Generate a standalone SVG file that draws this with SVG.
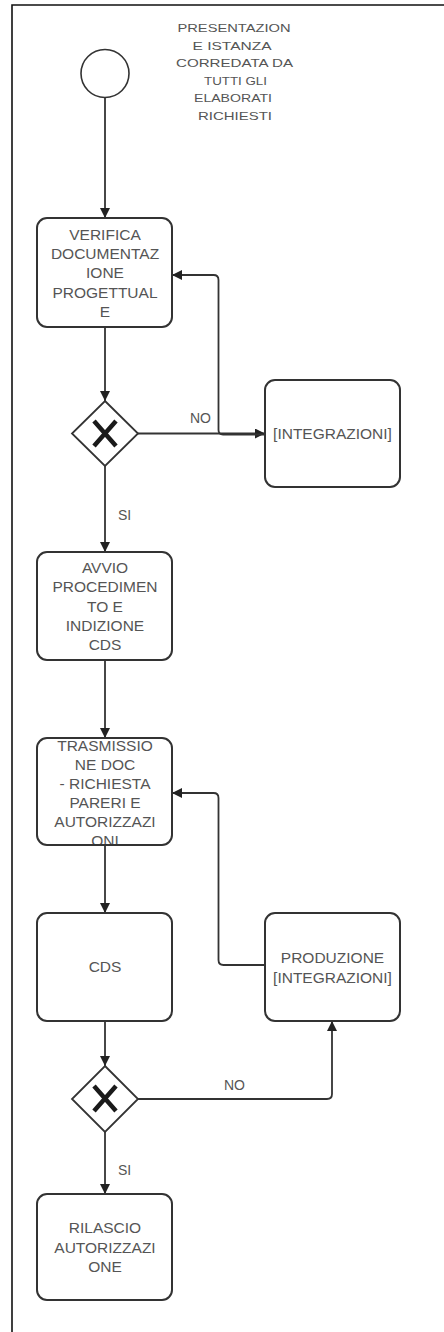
<svg xmlns="http://www.w3.org/2000/svg" width="444" height="1332" viewBox="0 0 444 1332">
<style>
.frame{stroke:#111;stroke-width:1.6;fill:none}
.box{fill:#fff;stroke:#333;stroke-width:2}
.gw{fill:#fff;stroke:#333;stroke-width:1.8}
.x{stroke:#1a1a1a;stroke-width:4.5;stroke-linecap:butt}
.ev{fill:#fff;stroke:#333;stroke-width:1.6}
.t{font-family:"Liberation Sans",Arial,sans-serif;font-size:15.5px;fill:#555;text-anchor:middle}
.title{font-family:"Liberation Sans",Arial,sans-serif;font-size:10.5px;fill:#555;text-anchor:middle}
.lbl{font-family:"Liberation Sans",Arial,sans-serif;font-size:14px;fill:#555}
.c{fill:none;stroke:#333;stroke-width:1.8;stroke-linejoin:round}
</style>
<defs>
<marker id="arr" viewBox="0 0 10 10" refX="10" refY="5" markerWidth="10" markerHeight="10" markerUnits="userSpaceOnUse" orient="auto">
<path d="M0,0 L10,5 L0,10 Z" fill="#222"/>
</marker>
<clipPath id="clip3"><rect x="38" y="741" width="133" height="103"/></clipPath>
</defs>
<rect width="444" height="1332" fill="#fff"/>
<g id="frame">
<path class="frame" d="M12,1332 V5 H444"/>
</g>
<g id="connectors">
<path class="c" d="M105,97.5 V218" marker-end="url(#arr)"/>
<path class="c" d="M105,327 V401" marker-end="url(#arr)"/>
<path class="c" d="M138,433.5 H265" marker-end="url(#arr)"/>
<path class="c" d="M265,434.5 H223 Q218.5,434.5 218.5,430 V280 Q218.5,275 213.5,275 H172" marker-end="url(#arr)"/>
<path class="c" d="M105,466 V552" marker-end="url(#arr)"/>
<path class="c" d="M105,660 V738" marker-end="url(#arr)"/>
<path class="c" d="M105,845 V913" marker-end="url(#arr)"/>
<path class="c" d="M105,1021 V1066" marker-end="url(#arr)"/>
<path class="c" d="M138,1099 H327 Q332,1099 332,1094 V1021" marker-end="url(#arr)"/>
<path class="c" d="M265,965 H223.5 Q218.5,965 218.5,960 V798 Q218.5,793 213.5,793 H172" marker-end="url(#arr)"/>
<path class="c" d="M105,1132 V1194" marker-end="url(#arr)"/>
<text class="lbl" x="190" y="423">NO</text>
<text class="lbl" x="118" y="520">SI</text>
<text class="lbl" x="224" y="1090">NO</text>
<text class="lbl" x="118" y="1175">SI</text>
</g>
<g id="start">
<circle class="ev" cx="105" cy="73.5" r="24"/>
</g>
<g id="title">
<text class="title" x="234" y="32" textLength="113" lengthAdjust="spacingAndGlyphs">PRESENTAZION</text>
<text class="title" x="232" y="49.6" textLength="79" lengthAdjust="spacingAndGlyphs">E ISTANZA</text>
<text class="title" x="234.5" y="67.2" textLength="117" lengthAdjust="spacingAndGlyphs">CORREDATA DA</text>
<text class="title" x="235.5" y="84.8" textLength="63" lengthAdjust="spacingAndGlyphs">TUTTI GLI</text>
<text class="title" x="233" y="102.4" textLength="78" lengthAdjust="spacingAndGlyphs">ELABORATI</text>
<text class="title" x="235" y="120" textLength="74" lengthAdjust="spacingAndGlyphs">RICHIESTI</text>
</g>
<g id="verifica">
<rect class="box" x="37" y="218" width="135" height="109" rx="10"/>
<text class="t" x="105" y="240">VERIFICA</text>
<text class="t" x="105" y="259">DOCUMENTAZ</text>
<text class="t" x="105" y="278">IONE</text>
<text class="t" x="105" y="298">PROGETTUAL</text>
<text class="t" x="105" y="317">E</text>
</g>
<g id="gateway1">
<path class="gw" d="M105,401 L138,433.5 L105,466 L72,433.5 Z"/>
<path class="x" d="M94,421 L116,446 M116,421 L94,446"/>
</g>
<g id="integrazioni">
<rect class="box" x="265" y="380" width="135" height="107" rx="10"/>
<text class="t" x="332.5" y="439">[INTEGRAZIONI]</text>
</g>
<g id="avvio">
<rect class="box" x="37" y="552" width="135" height="108" rx="10"/>
<text class="t" x="105" y="573">AVVIO</text>
<text class="t" x="105" y="592">PROCEDIMEN</text>
<text class="t" x="105" y="611.5">TO E</text>
<text class="t" x="105" y="631">INDIZIONE</text>
<text class="t" x="105" y="650">CDS</text>
</g>
<g id="trasmissione">
<rect class="box" x="37" y="738" width="135" height="107" rx="10"/>
<g clip-path="url(#clip3)">
<text class="t" x="105" y="751">TRASMISSIO</text>
<text class="t" x="105" y="770">NE DOC</text>
<text class="t" x="105" y="789">- RICHIESTA</text>
<text class="t" x="105" y="808">PARERI E</text>
<text class="t" x="105" y="827">AUTORIZZAZI</text>
<text class="t" x="105" y="846">ONI</text>
</g>
</g>
<g id="cds">
<rect class="box" x="37" y="913" width="135" height="108" rx="10"/>
<text class="t" x="105" y="972">CDS</text>
</g>
<g id="produzione">
<rect class="box" x="265" y="913" width="135" height="108" rx="10"/>
<text class="t" x="332.5" y="963">PRODUZIONE</text>
<text class="t" x="332.5" y="983">[INTEGRAZIONI]</text>
</g>
<g id="gateway2">
<path class="gw" d="M105,1066 L138,1099 L105,1132 L72,1099 Z"/>
<path class="x" d="M94,1086 L116,1111 M116,1086 L94,1111"/>
</g>
<g id="rilascio">
<rect class="box" x="37" y="1194" width="135" height="106" rx="10"/>
<text class="t" x="105" y="1233">RILASCIO</text>
<text class="t" x="105" y="1253">AUTORIZZAZI</text>
<text class="t" x="105" y="1272">ONE</text>
</g>
</svg>
